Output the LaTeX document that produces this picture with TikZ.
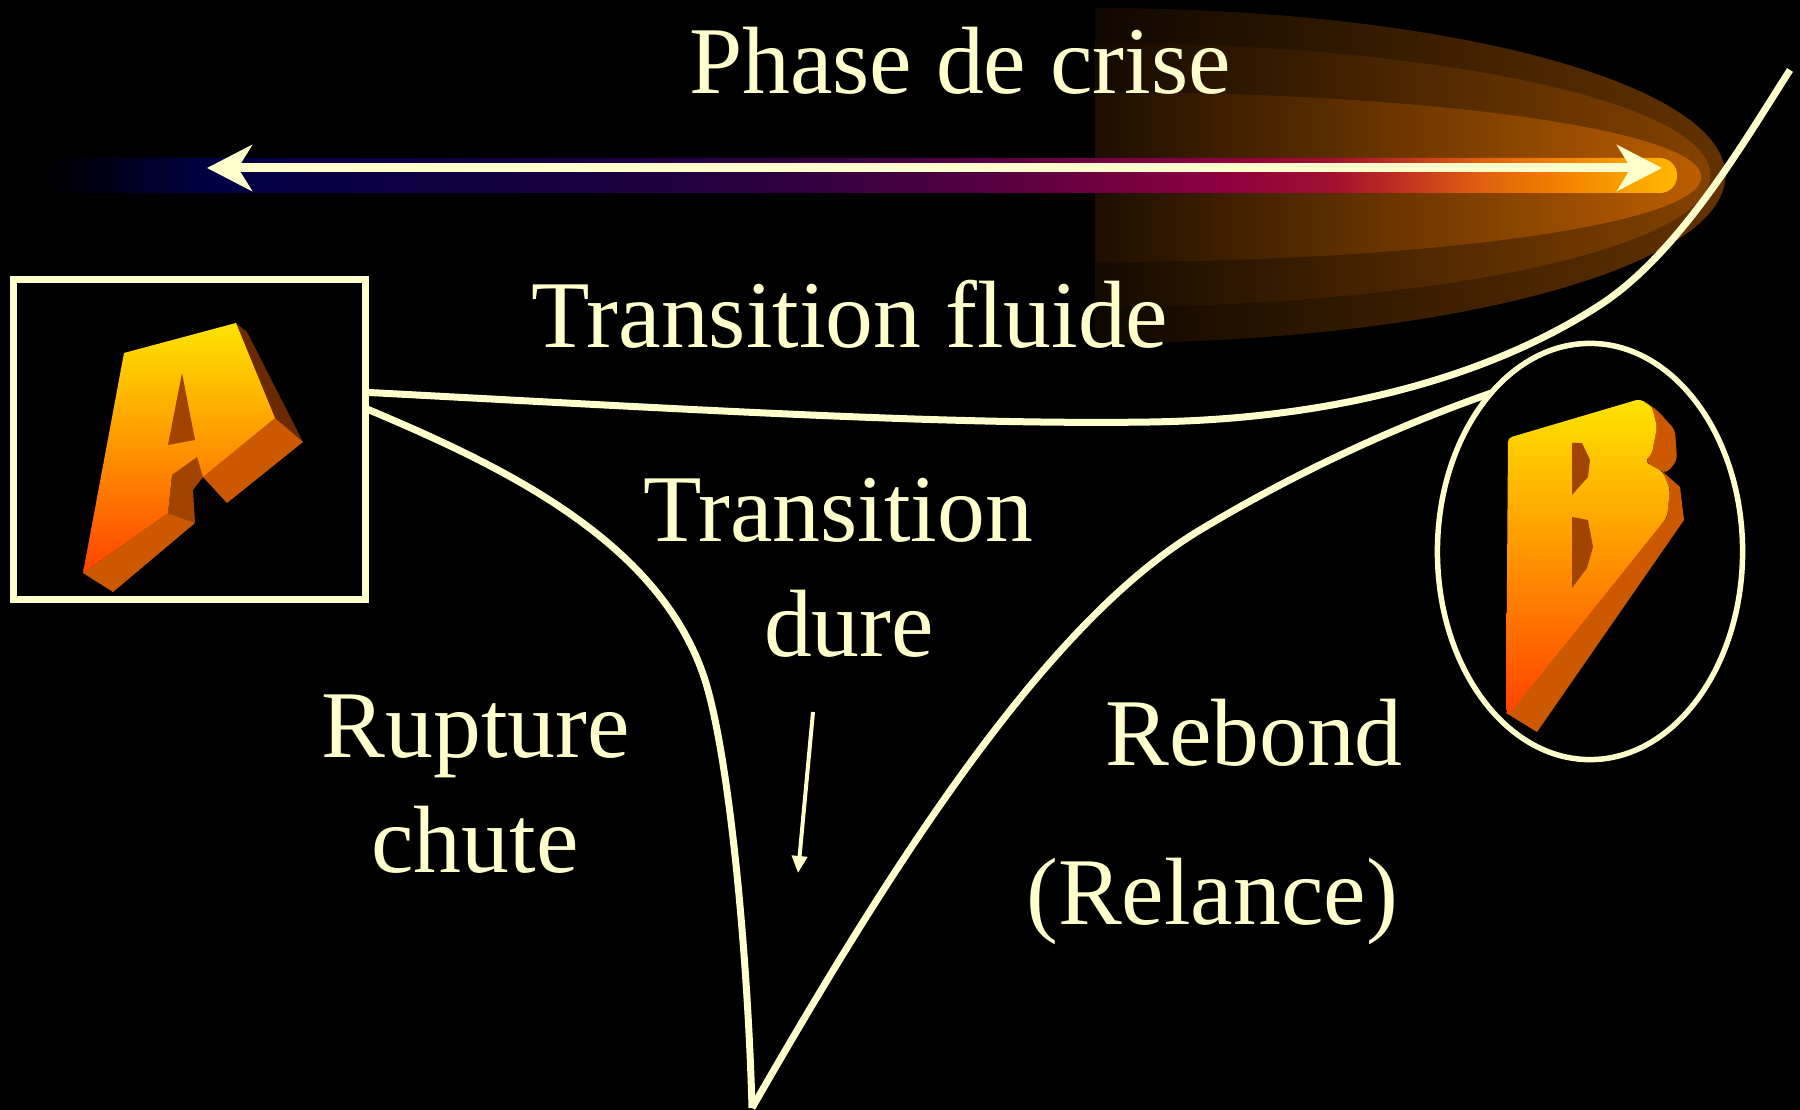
\documentclass[tikz,border=0pt]{standalone}
\usepackage{fontspec}
\setmainfont{Liberation Serif}
\usetikzlibrary{arrows.meta, positioning, shapes.geometric}
\definecolor{creme}{HTML}{FFFFCC}
\definecolor{lueurA}{HTML}{643200}
\definecolor{lueurB}{HTML}{844200}
\definecolor{lueurC}{HTML}{BC5E00}
\definecolor{bleuN}{HTML}{000044}
\definecolor{indigo}{HTML}{1A0040}
\definecolor{violet}{HTML}{300040}
\definecolor{prune}{HTML}{560040}
\definecolor{cramoisi}{HTML}{8C0040}
\definecolor{grenat}{HTML}{A01030}
\definecolor{brique}{HTML}{C03020}
\definecolor{rouille}{HTML}{E06010}
\definecolor{orangeV}{HTML}{F07800}
\definecolor{ambre}{HTML}{FFB800}
\definecolor{jaune}{HTML}{FFE400}
\definecolor{orangeL}{HTML}{FFA800}
\definecolor{rougeL}{HTML}{FF4400}
\definecolor{relief}{HTML}{CC5800}
\definecolor{reliefS}{HTML}{6B2A00}
\definecolor{creux}{HTML}{A04400}
\pgfdeclarehorizontalshading{bande}{100bp}{color(0bp)=(black); color(25bp)=(black);
  color(30bp)=(bleuN); color(42bp)=(indigo); color(48bp)=(violet); color(54bp)=(prune);
  color(61bp)=(cramoisi); color(64.4bp)=(grenat); color(66.5bp)=(brique);
  color(69bp)=(rouille); color(70.8bp)=(orangeV); color(75bp)=(ambre); color(100bp)=(ambre)}

\begin{document}
\begin{tikzpicture}[
    x=0.01cm, y=-0.01cm,
    texte/.style={
        text=creme,
        font=\fontsize{27.2}{32.7}\selectfont,
        inner sep=0pt,
        anchor=base
    },
    courbe/.style={
        draw=creme,
        line width=0.7mm
    },
    fleche/.style={
        {Stealth[length=4.5mm, width=4.6mm, inset=1.4mm]}-{Stealth[length=4.5mm, width=4.6mm, inset=1.4mm]},
        draw=creme,
        line width=0.9mm
    },
    petiteFleche/.style={
        -{Triangle[length=1.7mm, width=1.5mm]},
        draw=creme,
        line width=0.4mm
    }
]

\useasboundingbox (0,0) rectangle (1800,1110);
\fill[black] (0,0) rectangle (1800,1110);

% lueur
\shade[left color=lueurA!15!black, middle color=lueurA!70!black, right color=lueurA] (1095,8) arc[start angle=90, end angle=-90, x radius=6.3cm, y radius=1.675cm] -- cycle;
\shade[left color=lueurB!15!black, middle color=lueurB!70!black, right color=lueurB] (1095,43) arc[start angle=90, end angle=-90, x radius=6.15cm, y radius=1.32cm] -- cycle;
\shade[left color=lueurC!15!black, middle color=lueurC!70!black, right color=lueurC] (1095,92) arc[start angle=90, end angle=-90, x radius=6.06cm, y radius=0.85cm] -- cycle;

% bande
\shade[shading=bande, rounded corners=0.17cm] (46,158) rectangle (1677,193);

\coordinate (gauche) at (207,168);
\coordinate (droite) at (1662,168);
\draw[fleche] (gauche) -- (droite);

\node[texte] (phase) at (960,94) {Phase de crise};
\node[texte] (fluide) at (850,348) {Transition fluide};
\node[texte] (transition) at (838,542) {Transition};
\node[texte] (dure) at (849,657) {dure};
\node[texte] (rupture) at (476,758) {Rupture};
\node[texte] (chute) at (475,872) {chute};
\node[texte] (rebond) at (1254,765) {Rebond};
\node[texte] (relance) at (1212,924) {(Relance)};

\node[draw=creme, line width=0.7mm, minimum width=3.52cm, minimum height=3.2cm,
      inner sep=0pt, outer sep=0pt] (boiteA) at (189.5,439.5) {};
\node[ellipse, draw=creme, line width=0.55mm, minimum width=3.05cm, minimum height=4.16cm,
      inner sep=0pt, outer sep=0pt] (ellipseB) at (1590,551.5) {};

\coordinate (sommet) at (1790,70);
\coordinate (fond) at (752,1108);

\draw[courbe] (boiteA.15) .. controls (700,410) and (950,425) .. (1150,422)
    .. controls (1350,419) and (1500,370) .. (1600,305)
    .. controls (1680,253) and (1745,140) .. (sommet);
\draw[courbe] (boiteA.10) .. controls (500,465) and (660,540) .. (705,680)
    .. controls (730,760) and (748,960) .. (fond);
\draw[courbe] (fond) .. controls (900,850) and (1050,620) .. (1200,530)
    .. controls (1300,470) and (1400,425) .. (ellipseB.122);

\coordinate (haut) at (813,712);
\coordinate (bas) at (798,873);
\draw[petiteFleche] (haut) -- (bas);

% lettre A
\fill[reliefS] (236,323) -- (247,332) -- (303,442) -- (275,418) -- cycle;
\fill[relief] (275,418) -- (303,442) -- (227,503) -- (203,477) -- cycle;
\fill[creux] (172,475) -- (197,457) -- (203,477) -- (193,490) -- (195,523) -- (168,513) -- cycle;
\fill[relief] (83,573) -- (168,513) -- (195,523) -- (113,592) -- cycle;
\shade[top color=jaune, middle color=orangeL, bottom color=rougeL]
    (124,353) -- (236,323) -- (275,418) -- (203,477) -- (197,457) -- (172,475) -- (168,513) -- (83,573) -- cycle;
\fill[creux] (182,373) -- (195,440) -- (168,445) -- cycle;

% lettre B
\fill[relief, rounded corners=0.05cm] (1640,399) -- (1657,410) -- (1675,430) -- (1677,460) -- (1667,473)
    -- (1663,472) -- (1645,462) -- (1652,453) -- (1657,427) -- (1652,407) -- cycle;
\fill[relief] (1663,472) -- (1680,487) -- (1684,520) -- (1537,732) -- (1506,713) -- (1667,517) -- (1670,490) -- cycle;
\shade[top color=jaune, middle color=orangeL, bottom color=rougeL, rounded corners=0.04cm]
    (1508,438) -- (1640,399) -- (1652,407) -- (1657,427) -- (1652,453) -- (1645,462) -- (1663,472)
    -- (1670,490) -- (1667,517) -- (1510,713) -- (1506,713) -- cycle;
\fill[creux] (1572,443) -- (1582,443) -- (1590,460) -- (1588,477) -- (1572,495) -- cycle;
\fill[creux] (1572,517) -- (1588,520) -- (1593,547) -- (1587,568) -- (1572,588) -- cycle;

\end{tikzpicture}
\end{document}
